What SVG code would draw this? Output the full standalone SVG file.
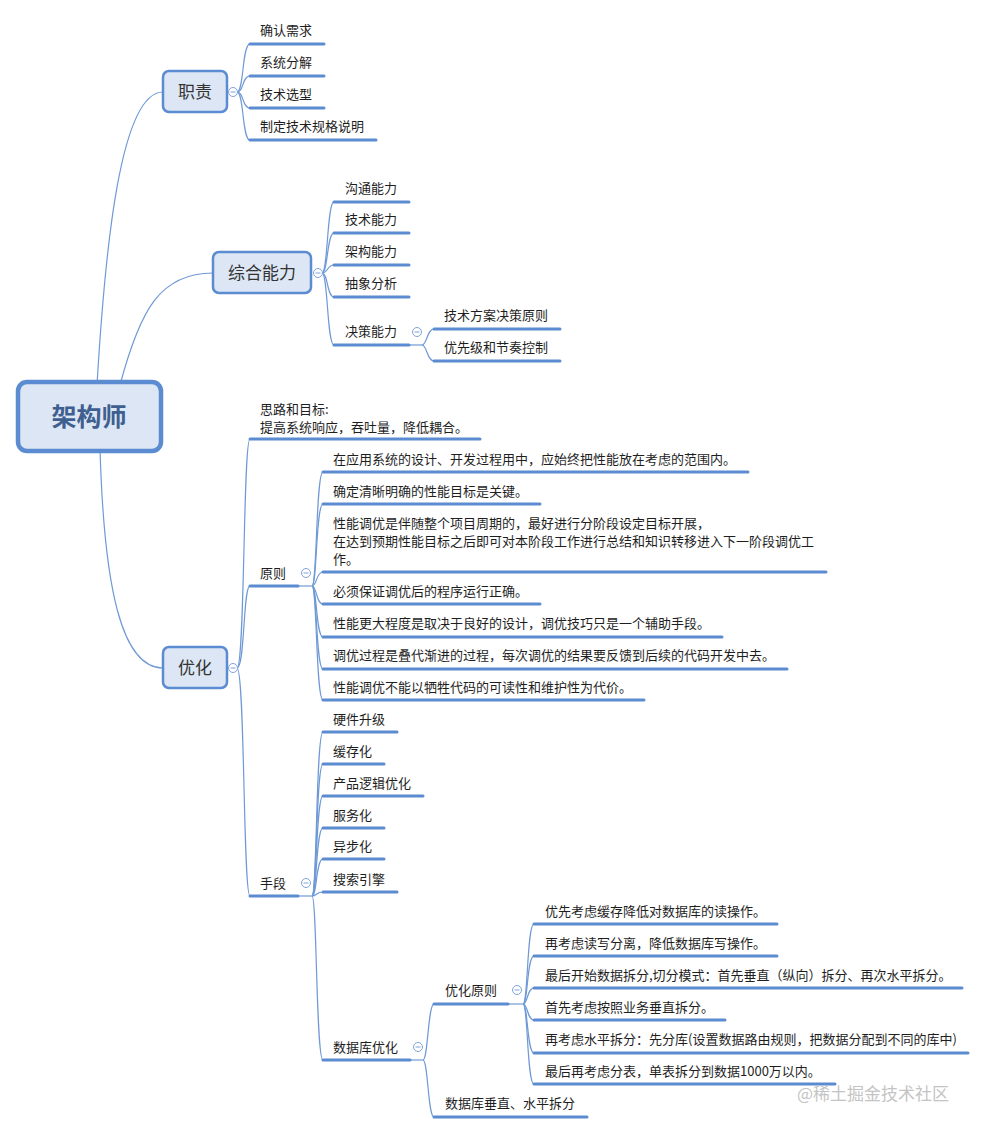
<svg xmlns="http://www.w3.org/2000/svg" width="986" height="1133" viewBox="0 0 986 1133">
<style>
.cn{fill:none;stroke:#6f99d6;stroke-width:1.2}
.ul{fill:none;stroke:#5b8bd0;stroke-width:3;stroke-linecap:round}
.box{fill:#dce6f4;stroke:#5b8bd0;stroke-width:2.5}
.root{fill:#dce6f4;stroke:#5b8bd0;stroke-width:4.5}
.t{font-family:"Noto Sans CJK SC","Noto Sans",sans-serif;font-size:13px;fill:#1e1e1e}
.bt{font-family:"Noto Sans CJK SC","Noto Sans",sans-serif;font-size:17px;fill:#333;text-anchor:middle}
.rt{font-family:"Noto Sans CJK SC","Noto Sans",sans-serif;font-size:25px;font-weight:bold;fill:#3f5f90;text-anchor:middle}
.wm{font-family:"Noto Sans CJK SC","Noto Sans",sans-serif;font-size:17px;fill:#c4c4c4}
</style>
<defs>
<g id="minus"><circle cx="0" cy="0" r="4.5" fill="#ffffff" stroke="#7fa3d8" stroke-width="1"/><path d="M-2.5,0H2.5" stroke="#7fa3d8" stroke-width="1"/></g>
</defs>
<rect width="986" height="1133" fill="#fff"/>
<g id="connectors">
<path class="cn" d="M97,385 C105,250 120,92 163,92"/>
<path class="cn" d="M120,385 C140,310 160,273 213,273"/>
<path class="cn" d="M100,448 C104,590 122,668 163,668"/>
<path class="cn" d="M237,92 C244,92 242,44 250,44"/>
<path class="cn" d="M237,92 C244,92 242,76 250,76"/>
<path class="cn" d="M237,92 C244,92 242,108 250,108"/>
<path class="cn" d="M237,92 C244,92 242,140 250,140"/>
<path class="cn" d="M322,273 C328,273 327,202 334,202"/>
<path class="cn" d="M322,273 C328,273 327,233 334,233"/>
<path class="cn" d="M322,273 C328,273 327,265 334,265"/>
<path class="cn" d="M322,273 C328,273 327,297 334,297"/>
<path class="cn" d="M322,273 C328,273 327,345 334,345"/>
<path class="cn" d="M409,345 L422,345"/>
<path class="cn" d="M422,345 C427,345 427,329 434,329"/>
<path class="cn" d="M422,345 C427,345 427,361 434,361"/>
<path class="cn" d="M237,668 C245,668 243,439 250,439"/>
<path class="cn" d="M237,668 C245,668 243,586 250,586"/>
<path class="cn" d="M237,668 C245,668 243,896 250,896"/>
<path class="cn" d="M298,586 L312,586"/>
<path class="cn" d="M312,586 C317,586 316,472 323,472"/>
<path class="cn" d="M312,586 C317,586 316,504 323,504"/>
<path class="cn" d="M312,586 C317,586 316,572 323,572"/>
<path class="cn" d="M312,586 C317,586 316,604 323,604"/>
<path class="cn" d="M312,586 C317,586 316,637 323,637"/>
<path class="cn" d="M312,586 C317,586 316,669 323,669"/>
<path class="cn" d="M312,586 C317,586 316,700 323,700"/>
<path class="cn" d="M298,896 L312,896"/>
<path class="cn" d="M312,896 C317,896 316,732 323,732"/>
<path class="cn" d="M312,896 C317,896 316,764 323,764"/>
<path class="cn" d="M312,896 C317,896 316,796 323,796"/>
<path class="cn" d="M312,896 C317,896 316,828 323,828"/>
<path class="cn" d="M312,896 C317,896 316,859 323,859"/>
<path class="cn" d="M312,896 C317,896 316,892 323,892"/>
<path class="cn" d="M312,896 C317,896 316,1060 323,1060"/>
<path class="cn" d="M410,1060 L423,1060"/>
<path class="cn" d="M423,1060 C428,1060 428,1004 434,1004"/>
<path class="cn" d="M423,1060 C428,1060 428,1117 434,1117"/>
<path class="cn" d="M508,1004 L523,1004"/>
<path class="cn" d="M523,1004 C528,1004 527,924 534,924"/>
<path class="cn" d="M523,1004 C528,1004 527,956 534,956"/>
<path class="cn" d="M523,1004 C528,1004 527,988 534,988"/>
<path class="cn" d="M523,1004 C528,1004 527,1020 534,1020"/>
<path class="cn" d="M523,1004 C528,1004 527,1053 534,1053"/>
<path class="cn" d="M523,1004 C528,1004 527,1084 534,1084"/>
</g>
<g id="root"><rect class="root" x="18" y="382" width="143" height="69" rx="9"/><text class="rt" x="89" y="426">架构师</text></g>
<g id="n-zhize"><rect class="box" x="163" y="71" width="64" height="41" rx="6"/><text class="bt" x="195" y="98">职责</text><use href="#minus" x="233" y="92"/></g>
<g id="n-zhize-1"><path class="ul" d="M250,44H324"/><text class="t" x="260" y="35">确认需求</text></g>
<g id="n-zhize-2"><path class="ul" d="M250,76H324"/><text class="t" x="260" y="67">系统分解</text></g>
<g id="n-zhize-3"><path class="ul" d="M250,108H324"/><text class="t" x="260" y="99">技术选型</text></g>
<g id="n-zhize-4"><path class="ul" d="M250,140H376"/><text class="t" x="260" y="131">制定技术规格说明</text></g>
<g id="n-zonghe"><rect class="box" x="213" y="252" width="98" height="41" rx="6"/><text class="bt" x="262" y="279">综合能力</text><use href="#minus" x="318" y="273"/></g>
<g id="n-zonghe-1"><path class="ul" d="M334,202H409"/><text class="t" x="345" y="193">沟通能力</text></g>
<g id="n-zonghe-2"><path class="ul" d="M334,233H409"/><text class="t" x="345" y="224">技术能力</text></g>
<g id="n-zonghe-3"><path class="ul" d="M334,265H409"/><text class="t" x="345" y="256">架构能力</text></g>
<g id="n-zonghe-4"><path class="ul" d="M334,297H409"/><text class="t" x="345" y="288">抽象分析</text></g>
<g id="n-juece"><path class="ul" d="M334,345H409"/><text class="t" x="345" y="336">决策能力</text><use href="#minus" x="417" y="332"/></g>
<g id="n-juece-1"><path class="ul" d="M434,329H560"/><text class="t" x="444" y="320">技术方案决策原则</text></g>
<g id="n-juece-2"><path class="ul" d="M434,361H560"/><text class="t" x="444" y="352">优先级和节奏控制</text></g>
<g id="n-youhua"><rect class="box" x="163" y="647" width="64" height="41" rx="6"/><text class="bt" x="195" y="674">优化</text><use href="#minus" x="233" y="668"/></g>
<g id="n-silu"><path class="ul" d="M250,439H480"/><text class="t" x="260" y="414">思路和目标:</text><text class="t" x="260" y="432">提高系统响应，吞吐量，降低耦合。</text></g>
<g id="n-yuanze"><path class="ul" d="M250,586H298"/><text class="t" x="260" y="578">原则</text><use href="#minus" x="306" y="573"/></g>
<g id="n-yz-1"><path class="ul" d="M323,472H748"/><text class="t" x="333" y="464">在应用系统的设计、开发过程用中，应始终把性能放在考虑的范围内。</text></g>
<g id="n-yz-2"><path class="ul" d="M323,504H540"/><text class="t" x="333" y="496">确定清晰明确的性能目标是关键。</text></g>
<g id="n-yz-3"><path class="ul" d="M323,572H826"/><text class="t" x="333" y="528">性能调优是伴随整个项目周期的，最好进行分阶段设定目标开展，</text><text class="t" x="333" y="546">在达到预期性能目标之后即可对本阶段工作进行总结和知识转移进入下一阶段调优工</text><text class="t" x="333" y="564">作。</text></g>
<g id="n-yz-4"><path class="ul" d="M323,604H540"/><text class="t" x="333" y="596">必须保证调优后的程序运行正确。</text></g>
<g id="n-yz-5"><path class="ul" d="M323,637H722"/><text class="t" x="333" y="628">性能更大程度是取决于良好的设计，调优技巧只是一个辅助手段。</text></g>
<g id="n-yz-6"><path class="ul" d="M323,669H787"/><text class="t" x="333" y="660">调优过程是叠代渐进的过程，每次调优的结果要反馈到后续的代码开发中去。</text></g>
<g id="n-yz-7"><path class="ul" d="M323,700H644"/><text class="t" x="333" y="692">性能调优不能以牺牲代码的可读性和维护性为代价。</text></g>
<g id="n-shouduan"><path class="ul" d="M250,896H298"/><text class="t" x="260" y="888">手段</text><use href="#minus" x="306" y="883"/></g>
<g id="n-sd-1"><path class="ul" d="M323,732H397"/><text class="t" x="333" y="724">硬件升级</text></g>
<g id="n-sd-2"><path class="ul" d="M323,764H384"/><text class="t" x="333" y="756">缓存化</text></g>
<g id="n-sd-3"><path class="ul" d="M323,796H423"/><text class="t" x="333" y="788">产品逻辑优化</text></g>
<g id="n-sd-4"><path class="ul" d="M323,828H384"/><text class="t" x="333" y="820">服务化</text></g>
<g id="n-sd-5"><path class="ul" d="M323,859H384"/><text class="t" x="333" y="851">异步化</text></g>
<g id="n-sd-6"><path class="ul" d="M323,892H397"/><text class="t" x="333" y="884">搜索引擎</text></g>
<g id="n-db"><path class="ul" d="M323,1060H410"/><text class="t" x="333" y="1052">数据库优化</text><use href="#minus" x="418" y="1047"/></g>
<g id="n-dbyz"><path class="ul" d="M434,1004H508"/><text class="t" x="445" y="995">优化原则</text><use href="#minus" x="517" y="990"/></g>
<g id="n-dbyz-1"><path class="ul" d="M534,924H777"/><text class="t" x="545" y="916">优先考虑缓存降低对数据库的读操作。</text></g>
<g id="n-dbyz-2"><path class="ul" d="M534,956H777"/><text class="t" x="545" y="948">再考虑读写分离，降低数据库写操作。</text></g>
<g id="n-dbyz-3"><path class="ul" d="M534,988H962"/><text class="t" x="545" y="980">最后开始数据拆分,切分模式：首先垂直（纵向）拆分、再次水平拆分。</text></g>
<g id="n-dbyz-4"><path class="ul" d="M534,1020H725"/><text class="t" x="545" y="1012">首先考虑按照业务垂直拆分。</text></g>
<g id="n-dbyz-5"><path class="ul" d="M534,1053H968"/><text class="t" x="545" y="1044">再考虑水平拆分：先分库(设置数据路由规则，把数据分配到不同的库中)</text></g>
<g id="n-dbyz-6"><path class="ul" d="M534,1084H835"/><text class="t" x="545" y="1076">最后再考虑分表，单表拆分到数据1000万以内。</text></g>
<g id="n-dbcf"><path class="ul" d="M434,1117H587"/><text class="t" x="445" y="1108">数据库垂直、水平拆分</text></g>
<text class="wm" x="797" y="1100">@稀土掘金技术社区</text>
</svg>
